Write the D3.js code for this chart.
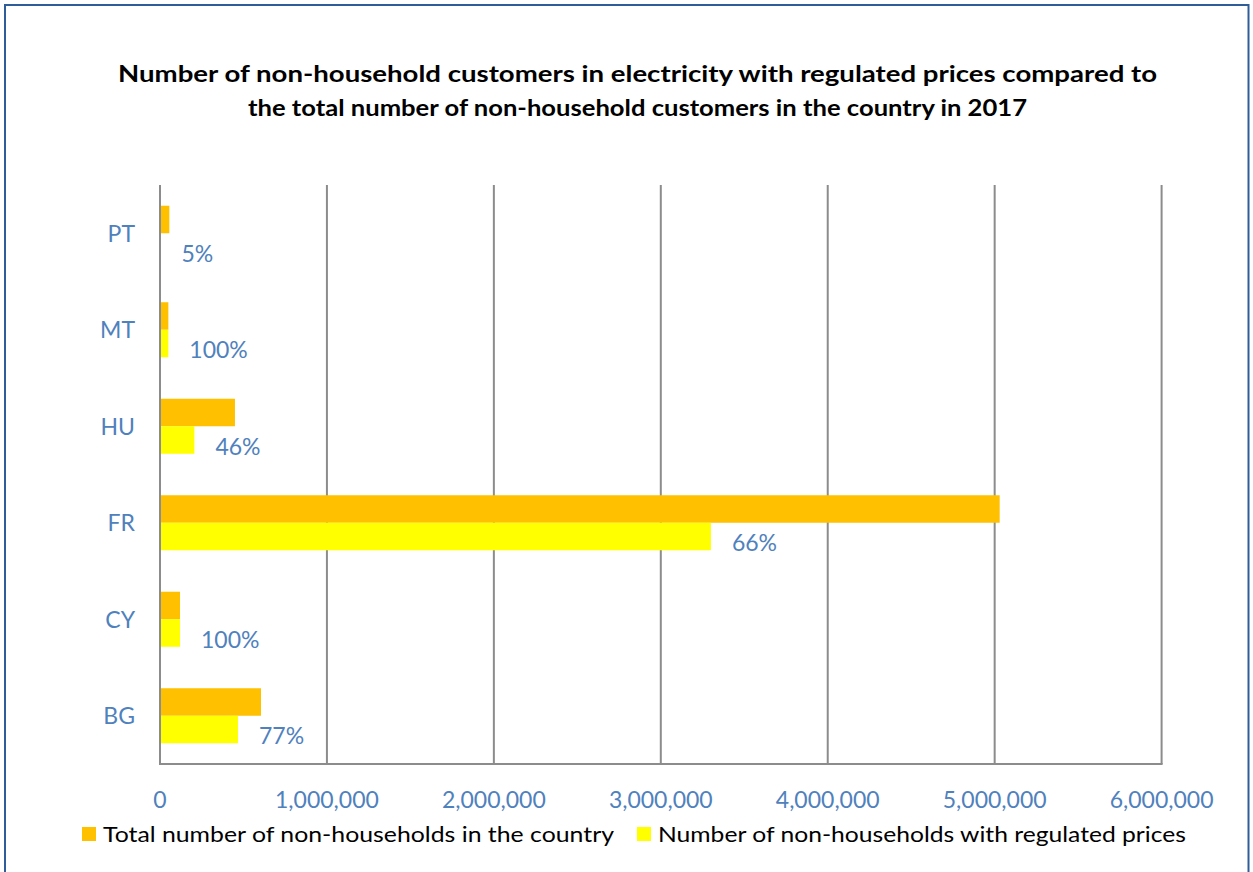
<!DOCTYPE html>
<html>
<head>
<meta charset="utf-8">
<script src="https://cdn.jsdelivr.net/npm/d3@7"></script>
<style>
  html, body { margin: 0; padding: 0; background: #fff; }
  svg { display: block; }
  text { font-family: Lato, "Open Sans", sans-serif; }
</style>
</head>
<body>
<svg id="chart" width="1253" height="872"></svg>
<script>
const categories = ["PT", "MT", "HU", "FR", "CY", "BG"];
const totalValues = [56000, 50000, 449000, 5030000, 120000, 605000];
const regulatedValues = [2800, 50000, 206000, 3300000, 120000, 467000];
const percentLabels = ["5%", "100%", "46%", "66%", "100%", "77%"];
const tickValues = [0, 1000000, 2000000, 3000000, 4000000, 5000000, 6000000];
const seriesNames = ["Total number of non-households in the country", "Number of non-households with regulated prices"];
const seriesColors = ["#FFC000", "#FFFF00"];
const titleLines = [
  "Number of non-household customers in electricity with regulated prices compared to",
  "the total number of non-household customers in the country in 2017"
];

const svg = d3.select("#chart");
const plot = { left: 160, right: 1161.6, top: 185, bottom: 764 };
const blue = "#4F81BD";
const grid = "#8C8C8C";

// outer border
svg.append("rect")
  .attr("x", 5).attr("y", 5).attr("width", 1243.5).attr("height", 880)
  .attr("fill", "#fff").attr("stroke", "#2F5D99").attr("stroke-width", 2);

// title
const titleWidths = [1039, 779];
svg.selectAll("text.title").data(titleLines).join("text")
  .attr("class", "title")
  .attr("x", 637.5)
  .attr("y", (d, i) => 82 + i * 34)
  .attr("text-anchor", "middle")
  .attr("font-size", 23)
  .attr("font-weight", "bold")
  .attr("fill", "#000")
  .attr("textLength", (d, i) => titleWidths[i])
  .attr("lengthAdjust", "spacingAndGlyphs")
  .text(d => d);

const x = d3.scaleLinear().domain([0, 6000000]).range([plot.left, plot.right]);
const y = d3.scaleBand().domain(categories).range([plot.top, plot.bottom])
  .paddingInner(0.43).paddingOuter(0.215);
const sub = d3.scaleBand().domain([0, 1]).range([0, y.bandwidth()]);

// gridlines
svg.append("g").selectAll("line").data(tickValues).join("line")
  .attr("x1", d => x(d)).attr("x2", d => x(d))
  .attr("y1", plot.top).attr("y2", plot.bottom)
  .attr("stroke", grid).attr("stroke-width", 2);

// bottom axis line
svg.append("line")
  .attr("x1", plot.left - 1).attr("x2", plot.right + 1)
  .attr("y1", plot.bottom).attr("y2", plot.bottom)
  .attr("stroke", grid).attr("stroke-width", 2);

// bars
const seriesData = [totalValues, regulatedValues];
seriesData.forEach((vals, si) => {
  svg.append("g").selectAll("rect").data(categories).join("rect")
    .attr("x", x(0) + 1)
    .attr("y", (c) => y(c) + sub(si))
    .attr("width", (c, i) => Math.max(0, x(vals[i]) - x(0) - 1))
    .attr("height", sub.bandwidth())
    .attr("fill", seriesColors[si]);
});

// percent labels
svg.append("g").selectAll("text").data(categories).join("text")
  .attr("x", (c, i) => x(regulatedValues[i]) + 21)
  .attr("y", c => y(c) + sub(1) + sub.bandwidth() / 2 + 6)
  .attr("dy", "0.38em")
  .attr("font-size", 23)
  .attr("fill", blue)
  .text((c, i) => percentLabels[i]);

// category axis labels
svg.append("g").selectAll("text").data(categories).join("text")
  .attr("x", 135)
  .attr("y", c => y(c) + y.bandwidth() / 2)
  .attr("dy", "0.36em")
  .attr("text-anchor", "end")
  .attr("font-size", 23)
  .attr("fill", blue)
  .text(c => c);

// x axis tick labels
const fmt = d3.format(",");
svg.append("g").selectAll("text").data(tickValues).join("text")
  .attr("x", d => x(d))
  .attr("y", 808)
  .attr("text-anchor", "middle")
  .attr("font-size", 23)
  .attr("fill", blue)
  .text(d => fmt(d));

// legend
const legendX = [82, 637];
const legendTextW = [511, 528];
seriesNames.forEach((name, i) => {
  svg.append("rect")
    .attr("x", legendX[i]).attr("y", 827)
    .attr("width", 14).attr("height", 14)
    .attr("fill", seriesColors[i]);
  svg.append("text")
    .attr("x", legendX[i] + 21)
    .attr("y", 842)
    .attr("font-size", 22)
    .attr("fill", "#000")
    .attr("textLength", legendTextW[i])
    .attr("lengthAdjust", "spacingAndGlyphs")
    .text(name);
});
</script>
</body>
</html>
